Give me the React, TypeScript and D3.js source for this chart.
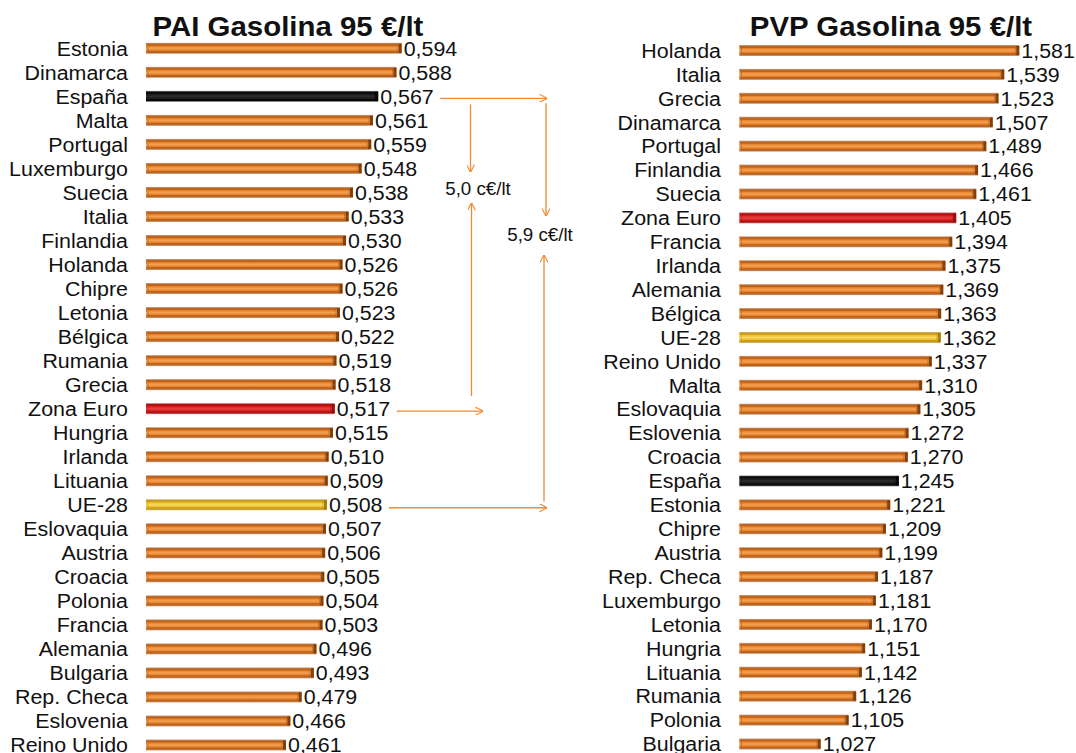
import * as d3 from 'd3'

const paiCountries = ['Estonia', 'Dinamarca', 'España', 'Malta', 'Portugal', 'Luxemburgo', 'Suecia', 'Italia', 'Finlandia', 'Holanda', 'Chipre', 'Letonia', 'Bélgica', 'Rumania', 'Grecia', 'Zona Euro', 'Hungria', 'Irlanda', 'Lituania', 'UE-28', 'Eslovaquia', 'Austria', 'Croacia', 'Polonia', 'Francia', 'Alemania', 'Bulgaria', 'Rep. Checa', 'Eslovenia', 'Reino Unido']
const paiValues = [0.594, 0.588, 0.567, 0.561, 0.559, 0.548, 0.538, 0.533, 0.530, 0.526, 0.526, 0.523, 0.522, 0.519, 0.518, 0.517, 0.515, 0.510, 0.509, 0.508, 0.507, 0.506, 0.505, 0.504, 0.503, 0.496, 0.493, 0.479, 0.466, 0.461]

const pvpCountries = ['Holanda', 'Italia', 'Grecia', 'Dinamarca', 'Portugal', 'Finlandia', 'Suecia', 'Zona Euro', 'Francia', 'Irlanda', 'Alemania', 'Bélgica', 'UE-28', 'Reino Unido', 'Malta', 'Eslovaquia', 'Eslovenia', 'Croacia', 'España', 'Estonia', 'Chipre', 'Austria', 'Rep. Checa', 'Luxemburgo', 'Letonia', 'Hungria', 'Lituania', 'Rumania', 'Polonia', 'Bulgaria']
const pvpValues = [1.581, 1.539, 1.523, 1.507, 1.489, 1.466, 1.461, 1.405, 1.394, 1.375, 1.369, 1.363, 1.362, 1.337, 1.310, 1.305, 1.272, 1.270, 1.245, 1.221, 1.209, 1.199, 1.187, 1.181, 1.170, 1.151, 1.142, 1.126, 1.105, 1.027]

const W = 1076
const H = 753
const FONT = 'Arial, "Liberation Sans", sans-serif'
const ORANGE = '#f08a32'
const BAR_H = 11
const STRETCH = 1.07 // the source picture is a bit wider than tall

// bar colour per country: gradient id
const barStyle = (c: string) =>
  c === 'España' ? 'g-black' : c === 'Zona Euro' ? 'g-red' : c === 'UE-28' ? 'g-yellow' : 'g-orange'

const capColor: Record<string, string> = {
  'g-black': '#000',
  'g-red': '#8a0a0a',
  'g-yellow': '#9a7008',
  'g-orange': '#6e3408',
}

const fmt = (v: number) => v.toFixed(3).replace('.', ',')

function SText({ x, y, size, anchor = 'start', bold = false, children }: { x: number; y: number; size: number; anchor?: string; bold?: boolean; children: string }) {
  return (
    <text
      transform={`translate(${x},${y}) scale(${STRETCH},1)`}
      textAnchor={anchor}
      dominantBaseline={bold ? undefined : 'middle'}
      fontFamily={FONT}
      fontWeight={bold ? 'bold' : 'normal'}
      fontSize={size}
      fill="#111"
    >
      {children}
    </text>
  )
}

type PanelProps = {
  title: string
  titleX: number
  countries: string[]
  values: number[]
  domain: [number, number]
  xRange: [number, number]
  yRange: [number, number]
  labelX: number
}

function Panel({ title, titleX, countries, values, domain, xRange, yRange, labelX }: PanelProps) {
  const x = d3.scaleLinear().domain(domain).range(xRange)
  const y = d3.scalePoint<string>().domain(countries).range(yRange)
  return (
    <g>
      <SText x={titleX} y={36} size={27.5} anchor="middle" bold>
        {title}
      </SText>
      {countries.map((c, i) => {
        const cy = y(c)!
        const x0 = x(domain[0])
        const x1 = x(values[i])
        const g = barStyle(c)
        return (
          <g key={c}>
            <SText x={labelX} y={cy + 2} size={20} anchor="end">
              {c}
            </SText>
            <rect x={x0} y={cy - BAR_H / 2} width={x1 - x0} height={BAR_H} fill={`url(#${g})`} />
            <rect x={x0 + 2} y={cy - BAR_H / 2 + 2.5} width={Math.max(0, x1 - x0 - 6)} height={BAR_H - 5} fill="none" stroke={capColor[g]} strokeOpacity={0.35} strokeWidth={0.8} />
            <rect x={x1 - 3} y={cy - BAR_H / 2 + 1} width={3} height={BAR_H - 2} fill={capColor[g]} opacity={0.85} />
            <SText x={x1 + 2} y={cy + 2} size={20}>
              {fmt(values[i])}
            </SText>
          </g>
        )
      })}
    </g>
  )
}

function Gradient({ id, edge, dark, mid, light }: { id: string; edge: string; dark: string; mid: string; light: string }) {
  return (
    <linearGradient id={id} x1="0" y1="0" x2="0" y2="1">
      <stop offset="0" stopColor={edge} />
      <stop offset="0.12" stopColor={dark} />
      <stop offset="0.3" stopColor={mid} />
      <stop offset="0.5" stopColor={light} />
      <stop offset="0.7" stopColor={mid} />
      <stop offset="0.88" stopColor={dark} />
      <stop offset="1" stopColor={edge} />
    </linearGradient>
  )
}

export default function App() {
  const paiDomain: [number, number] = [0.3, 0.6]
  const paiRange: [number, number] = [146, 406.9]
  const xL = d3.scaleLinear().domain(paiDomain).range(paiRange)
  const yL = d3.scalePoint<string>().domain(paiCountries).range([48.3, 745])
  const val = (c: string) => paiValues[paiCountries.indexOf(c)]

  // annotation arrows
  const espY = yL('España')! + 2
  const zeY = yL('Zona Euro')! + 2.5
  const ueY = yL('UE-28')! + 3
  const startOf = (c: string) => xL(val(c)) + 62
  const colA = 470.5
  const colB = 545.5

  return (
    <svg width={W} height={H} style={{ position: 'absolute', left: 0, top: 0, background: '#fff' }}>
      <defs>
        <Gradient id="g-orange" edge="#c0a898" dark="#c0621a" mid="#e6822c" light="#f4a050" />
        <Gradient id="g-black" edge="#9a9a9a" dark="#050505" mid="#1a1a1a" light="#2e2e2e" />
        <Gradient id="g-red" edge="#c89090" dark="#b01010" mid="#d82020" light="#e84040" />
        <Gradient id="g-yellow" edge="#c8b890" dark="#c89a10" mid="#eec030" light="#f8da60" />
        <marker id="arr" viewBox="0 0 10 10" refX="9.5" refY="5" markerWidth="8" markerHeight="8" markerUnits="userSpaceOnUse" orient="auto">
          <path d="M0,0 L10,5 L0,10" fill="none" stroke={ORANGE} strokeWidth={1.4} />
        </marker>
      </defs>

      <Panel
        title="PAI Gasolina 95 €/lt"
        titleX={288}
        countries={paiCountries}
        values={paiValues}
        domain={paiDomain}
        xRange={paiRange}
        yRange={[48.3, 745]}
        labelX={128}
      />
      <Panel
        title="PVP Gasolina 95 €/lt"
        titleX={891}
        countries={pvpCountries}
        values={pvpValues}
        domain={[0.8, 1.6]}
        xRange={[739.3, 1026.1]}
        yRange={[50.5, 744]}
        labelX={721}
      />

      <g stroke={ORANGE} strokeWidth={1.3} fill="none">
        <line x1={startOf('España')} y1={espY} x2={547} y2={espY} markerEnd="url(#arr)" />
        <line x1={colA} y1={espY + 6} x2={colA} y2={172} markerEnd="url(#arr)" />
        <line x1={colA + 1} y1={zeY - 15} x2={colA + 1} y2={203} markerEnd="url(#arr)" />
        <line x1={startOf('Zona Euro')} y1={zeY} x2={483} y2={zeY} markerEnd="url(#arr)" />
        <line x1={colB + 0.5} y1={espY + 5} x2={colB + 0.5} y2={216} markerEnd="url(#arr)" />
        <line x1={colB - 1.5} y1={ueY - 6} x2={colB - 1.5} y2={255} markerEnd="url(#arr)" />
        <line x1={startOf('UE-28')} y1={ueY} x2={547} y2={ueY} markerEnd="url(#arr)" />
      </g>
      <SText x={478} y={190} size={17.5} anchor="middle">
        5,0 c€/lt
      </SText>
      <SText x={540} y={236} size={17.5} anchor="middle">
        5,9 c€/lt
      </SText>
    </svg>
  )
}
